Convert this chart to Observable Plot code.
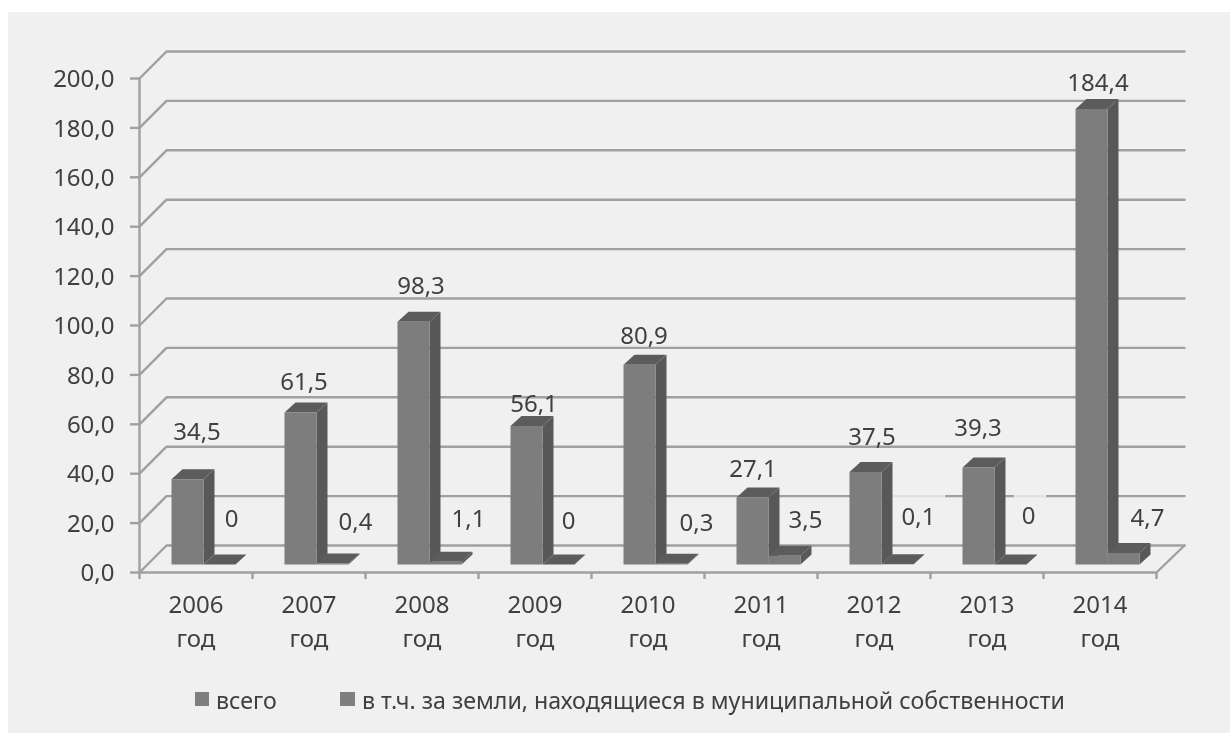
<!DOCTYPE html>
<html><head><meta charset="utf-8">
<script src="https://cdn.jsdelivr.net/npm/d3@7"></script>
<script src="https://cdn.jsdelivr.net/npm/@observablehq/plot@0.6"></script>
<style>
html,body{margin:0;padding:0;background:#fff;width:1230px;height:733px;overflow:hidden}
#panel{position:absolute;left:8px;top:12px;right:0;bottom:0;background:#f0f0f0}
#chart{position:absolute;left:0;top:0}
#chart svg{background:transparent;display:block;overflow:visible;filter:blur(0.45px)}
.lg{position:absolute;font:23.2px "Noto Sans",sans-serif;color:#404040;white-space:nowrap;line-height:26px;top:687px;filter:blur(0.45px)}
.sw{position:absolute;background:#7f7f7f;top:692px;height:14px}
</style></head><body>
<div id="panel"></div>
<div id="chart"></div>
<div class="sw" style="left:195px;width:14px"></div>
<div class="lg" id="l1" style="left:216px"></div>
<div class="sw" style="left:340px;width:15px"></div>
<div class="lg" id="l2" style="left:362px"></div>
<script>
const years = ["2006","2007","2008","2009","2010","2011","2012","2013","2014"];
const totals = [34.5,61.5,98.3,56.1,80.9,27.1,37.5,39.3,184.4];
const municipal = [0,0.4,1.1,0,0.3,3.5,0.1,0,4.7];
const municipalLabels = ["0","0,4","1,1","0","0,3","3,5","0,1","0","4,7"];
const yTicks = [0,20,40,60,80,100,120,140,160,180,200];
const legendNames = ["всего","в т.ч. за земли, находящиеся в муниципальной собственности"];

const font = '"Noto Sans",sans-serif', FS = 24;
const pxX = 113, pxY = 2.47;
// 3D look, converted from pixels to data units
const wallX = 27/pxX, wallY = 27/pxY;
const barStart = 32/pxX, barW = 32/pxX, baseV = 8/pxY, depthX = 11/pxX, depthY = 10/pxY;
// manual placement of the labels, as the original has (pixels)
const totalNudge = [[1,47],[-5,30],[-1,35],[-1,22],[-4,28],[-8,28],[-2,35],[-9,39],[-2,26]];
const muniNudge = [[-4,45],[7,41],[7,42],[-6,43],[9,40],[5,36],[5,47],[2,48],[8,35]];

const fmt = v => v.toFixed(1).replace(".",",");
const faces = [];
function bar(id,i,off,v){
  const x0=i+barStart+off*barW, x1=x0+barW, y0=baseV, y1=baseV+v;
  const poly=(k,c,pts)=>pts.forEach(([x,y])=>faces.push({id:`${id}-${k}`,c,x,y}));
  poly("side","#585858",[[x1,y0],[x1,y1],[x1+depthX,y1+depthY],[x1+depthX,y0+depthY]]);
  poly("top","#5c5c5c",[[x0,y1],[x1,y1],[x1+depthX,y1+depthY],[x0+depthX,y1+depthY]]);
  if(v>0.2) poly("front","#7d7d7d",[[x0,y0],[x1,y0],[x1,y1],[x0,y1]]);
}
years.forEach((_,i)=>{bar("a"+i,i,0,totals[i]);});
years.forEach((_,i)=>{bar("b"+i,i,1,municipal[i]);});

const wall = yTicks.flatMap(v=>[{v,x:0,y:v},{v,x:wallX,y:v+wallY},{v,x:9+wallX+1/pxX,y:v+wallY}]);
const floor = [{x:9,y:0},{x:9+wallX+1/pxX,y:wallY}];
// stretches of the 20,0 wall line that the original's label boxes wash out
const washed = [[6.673,7.115],[7.752,8.009]].flatMap(([a,b],k)=>[{k,x:a,y:20+wallY},{k,x:b,y:20+wallY}]);

const labelsA = totals.map((v,i)=>({i,t:fmt(v),x:i+0.5+totalNudge[i][0]/pxX,y:baseV+v+totalNudge[i][1]/pxY}));
const labelsB = municipal.map((v,i)=>({i,t:municipalLabels[i],x:i+0.85+muniNudge[i][0]/pxX,y:baseV+v+muniNudge[i][1]/pxY}));

const plot = Plot.plot({
  width:1230,height:680,
  marginLeft:139,marginRight:74,marginTop:78,marginBottom:108,
  style:{fontFamily:font,background:"transparent"},
  x:{domain:[0,9],range:[139,1156]},
  y:{domain:[0,200],range:[572,78]},
  marks:[
    Plot.line(wall,{x:"x",y:"y",z:"v",stroke:"#a0a0a0",strokeWidth:2.4}),
    Plot.line(floor,{x:"x",y:"y",stroke:"#a0a0a0",strokeWidth:2.4}),
    Plot.line(washed,{x:"x",y:"y",z:"k",stroke:"#f0f0f0",strokeWidth:3.5}),
    Plot.line(washed,{x:"x",y:"y",z:"k",stroke:"#dadada",strokeWidth:1.5}),
    Plot.ruleX([0],{y1:0,y2:200,stroke:"#a0a0a0",strokeWidth:2.4}),
    Plot.ruleY([0],{x1:0,x2:9,stroke:"#a0a0a0",strokeWidth:2.6}),
    Plot.line(faces,{x:"x",y:"y",z:"id",fill:"c",stroke:"none"}),
    Plot.axisY({ticks:yTicks,tickSize:9,label:null,stroke:"#a0a0a0",strokeWidth:2.4,tickFormat:()=>""}),
    Plot.axisY({ticks:yTicks,tickSize:0,tickPadding:25,dy:1,fontSize:FS,label:null,fill:"#404040",tickFormat:fmt}),
    Plot.axisX({ticks:d3.range(0,10),tickSize:7,label:null,tickFormat:()=>"",stroke:"#a0a0a0",strokeWidth:2.4}),
    Plot.axisX({ticks:years.map((_,i)=>i+0.5),tickSize:0,tickPadding:16,fontSize:FS,lineHeight:1.42,label:null,fill:"#404040",tickFormat:d=>years[Math.floor(d)]+"\nгод"}),
    Plot.text(labelsA,{x:"x",y:"y",text:"t",fontSize:FS,fill:"#404040"}),
    Plot.text(labelsB,{x:"x",y:"y",text:"t",fontSize:FS,fill:"#404040"})
  ]
});
document.getElementById("chart").append(plot);
document.getElementById("l1").textContent=legendNames[0];
document.getElementById("l2").textContent=legendNames[1];
</script>
</body></html>
